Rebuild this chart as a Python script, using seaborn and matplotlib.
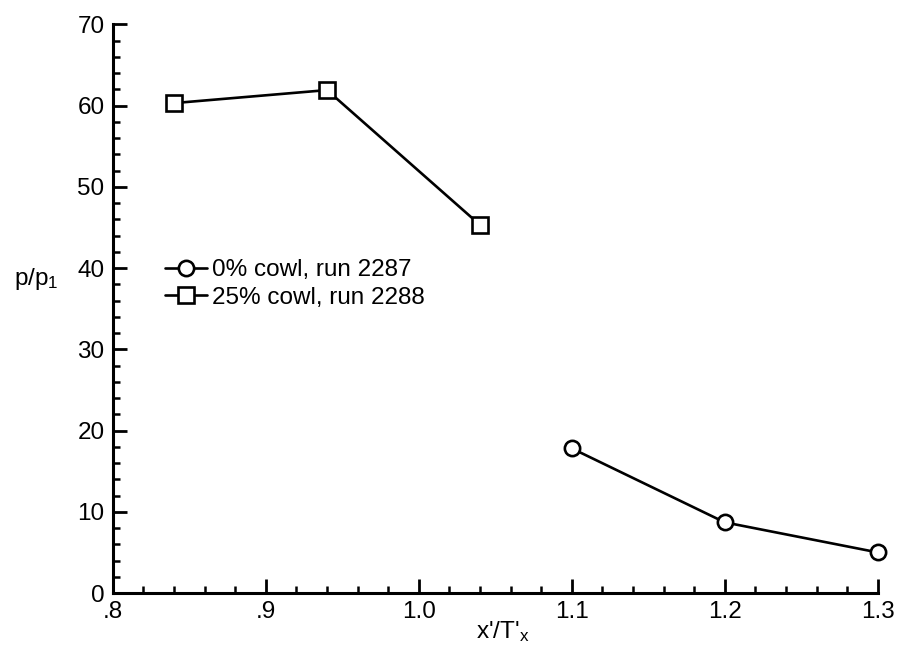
import pandas as pd
import matplotlib.pyplot as plt
import seaborn as sns
from matplotlib.ticker import MultipleLocator, FuncFormatter

# Data
x_0pct = [1.10, 1.20, 1.30]
p_0pct = [17.8, 8.7, 5.0]
x_25pct = [0.84, 0.94, 1.04]
p_25pct = [60.3, 61.9, 45.3]
labels = ['0% cowl, run 2287', '25% cowl, run 2288']

df0 = pd.DataFrame({'x': x_0pct, 'p': p_0pct})
df25 = pd.DataFrame({'x': x_25pct, 'p': p_25pct})

sns.set_style("ticks")
plt.rcParams['font.family'] = ['Liberation Sans', 'DejaVu Sans']
plt.rcParams['mathtext.default'] = 'regular'
plt.rcParams['text.color'] = 'black'
plt.rcParams['axes.labelcolor'] = 'black'
plt.rcParams['xtick.color'] = 'black'
plt.rcParams['ytick.color'] = 'black'
plt.rcParams['axes.edgecolor'] = 'black'

fig = plt.figure(figsize=(9.03, 6.56), dpi=100)
ax = fig.add_axes([0.125, 0.096, 0.847, 0.867])

sns.lineplot(data=df0, x='x', y='p', ax=ax, color='black', lw=1.9,
             marker='o', ms=11, mfc='white', mec='black', mew=1.9,
             label=labels[0], clip_on=False)
sns.lineplot(data=df25, x='x', y='p', ax=ax, color='black', lw=1.9,
             marker='s', ms=11, mfc='white', mec='black', mew=1.9,
             label=labels[1], clip_on=False)

ax.set_xlim(0.8, 1.3)
ax.set_ylim(0, 70)
ax.xaxis.set_major_locator(MultipleLocator(0.1))
ax.xaxis.set_minor_locator(MultipleLocator(0.02))
ax.yaxis.set_major_locator(MultipleLocator(10))
ax.yaxis.set_minor_locator(MultipleLocator(2))


def xfmt(v, pos):
    s = f"{v:.1f}"
    return s[1:] if s.startswith('0') else s


ax.xaxis.set_major_formatter(FuncFormatter(xfmt))
ax.tick_params(which='major', direction='in', length=10, width=2, labelsize=17.5, pad=6)
ax.tick_params(which='minor', direction='in', length=5, width=1.8)
sns.despine(ax=ax)
for s in ['left', 'bottom']:
    ax.spines[s].set_linewidth(2.2)

ax.set_xlabel(r"x'/T$'_{x}$", fontsize=17.5)
ax.set_ylabel(r"p/p$_1$", fontsize=17.5, rotation=0)
ax.yaxis.set_label_coords(-0.1, 0.53)
ax.xaxis.set_label_coords(0.51, -0.045)

ax.legend(loc='upper left', bbox_to_anchor=(0.04, 0.625), frameon=False,
          fontsize=17.5, handlelength=1.7, handletextpad=0.2, labelspacing=0.22)

plt.savefig('out.png', dpi=100)
